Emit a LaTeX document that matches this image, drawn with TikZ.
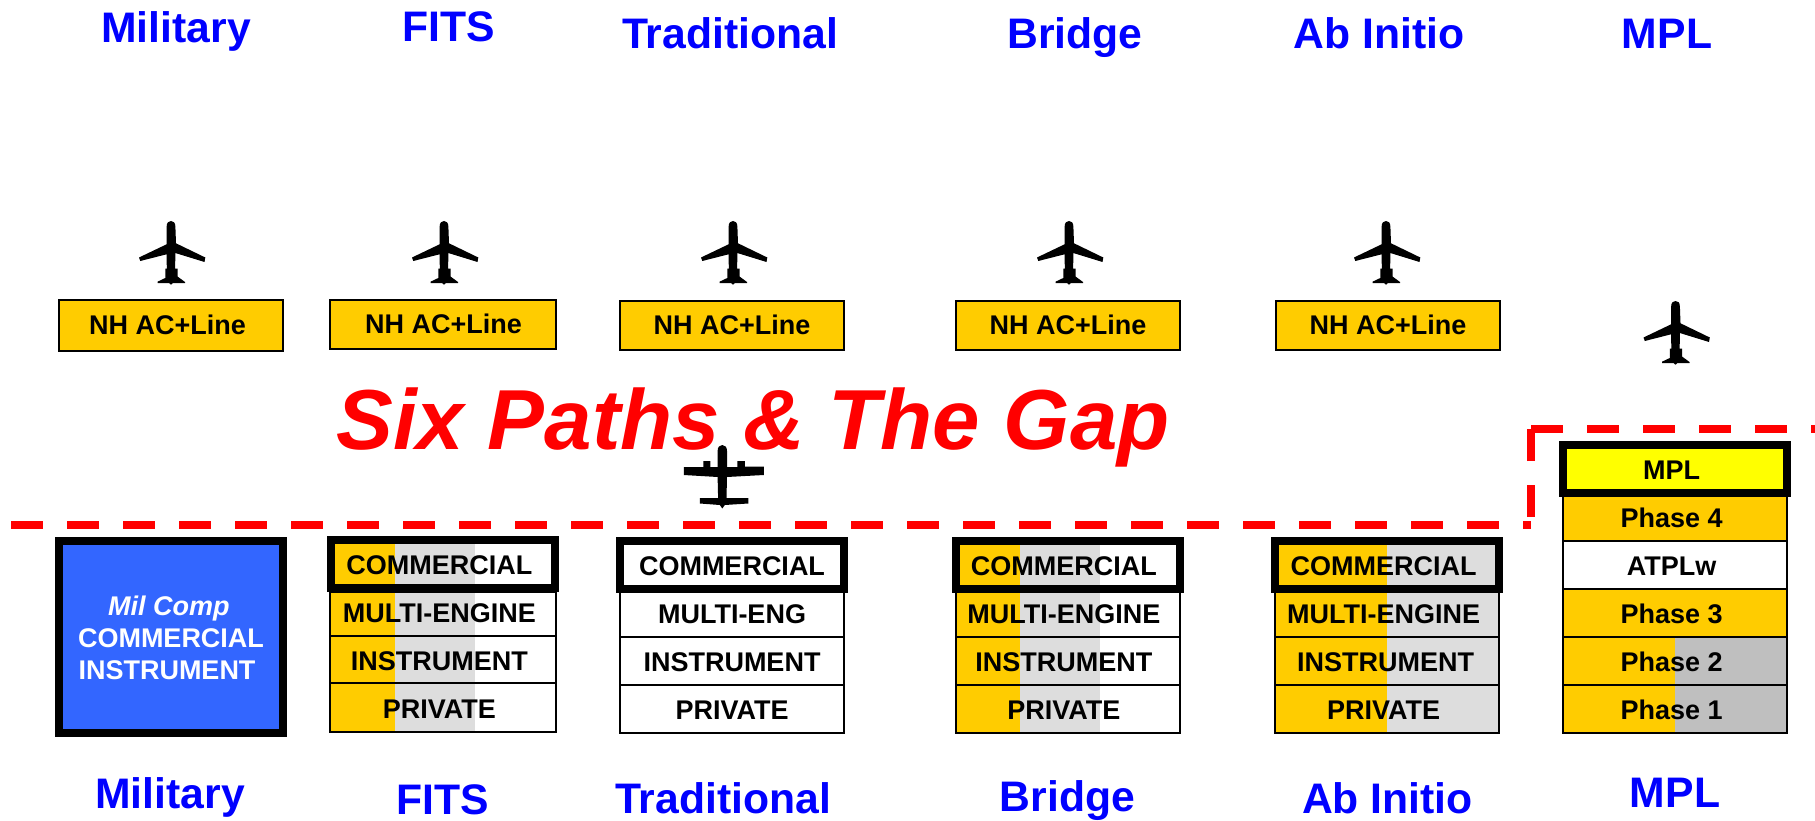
\documentclass[tikz,border=0pt]{standalone}
\usepackage{fontspec}
\setmainfont{Liberation Sans}
\definecolor{amber}{HTML}{FFCC00}
\definecolor{lgray}{HTML}{DDDDDD}
\definecolor{dgray}{HTML}{BFBFBF}
\definecolor{milblue}{HTML}{3366FF}
\definecolor{pureblue}{HTML}{0000FF}
\definecolor{pureyellow}{RGB}{255,255,0}
\tikzset{
  rowbox/.style={draw=black,line width=2pt},
  thickbox/.style={draw=black,line width=8pt,line join=miter},
  rowtext/.style={anchor=base,inner sep=0pt,font=\fontsize{27}{30}\bfseries\selectfont,text=black},
  headtext/.style={anchor=base,inner sep=0pt,font=\fontsize{42.7}{46}\bfseries\selectfont,text=pureblue},
  redline/.style={draw=red,line width=8pt},
  jet/.pic={
    \fill[black] (-4.4,6) .. controls (-4.4,1.5) and (-2.5,0) .. (0,0) .. controls (2.5,0) and (4.4,1.5) .. (4.4,6)
      -- (5,22.3) -- (34.3,36.5) -- (33.5,41) -- (4.3,32) -- (4.2,47.5) -- (6.5,47.5) -- (6.5,55.5) -- (14,61) -- (14,62)
      -- (2,62) -- (0,63.7) -- (-2,62) -- (-13.5,62) -- (-13.5,60.7) -- (-5.7,57) -- (-5.7,47.5) -- (-4.2,47.5)
      -- (-4.4,33.3) -- (-30.7,40) -- (-32,36.5) -- (-4.4,23.3) -- cycle;
  },
  propplane/.pic={
    \fill[black] (-4.7,6) .. controls (-4.7,2) and (-2.5,0) .. (0,0) .. controls (2.5,0) and (4.7,2) .. (4.7,6)
      -- (4.7,22) -- (15,22) -- (15,16) -- (22.5,16) -- (22.5,21.5) -- (41.5,21.5) -- (41.5,30) -- (4.7,32)
      -- (4.2,53) -- (26,53) -- (26,58.5) -- (2.5,60) -- (0,63.5) -- (-2.5,60) -- (-22.5,58.5) -- (-22.5,53) -- (-4.2,53)
      -- (-4.7,32) -- (-38.5,30) -- (-38.5,22) -- (-19,22) -- (-19,16) -- (-12,16) -- (-12,22) -- (-4.7,22) -- cycle;
  }
}
\begin{document}
\begin{tikzpicture}[x=1pt,y=-1pt]
\useasboundingbox (0,0) rectangle (1815,821);

% title
\node[anchor=base,inner sep=0pt,text=red,font=\fontsize{85.2}{90}\bfseries\itshape\selectfont] (title) at (753,449) {Six Paths \& The Gap};

% headings
\node[headtext] (h1) at (176,43) {Military};
\node[headtext] (h2) at (449,42) {FITS};
\node[headtext] (h3) at (730,49) {Traditional};
\node[headtext] (h4) at (1075,49) {Bridge};
\node[headtext] (h5) at (1379,49) {Ab Initio};
\node[headtext] (h6) at (1667,49) {MPL};
\node[headtext] (b1) at (170,808.5) {Military};
\node[headtext] (b2) at (443,814) {FITS};
\node[headtext] (b3) at (723,813) {Traditional};
\node[headtext] (b4) at (1067.5,811) {Bridge};
\node[headtext] (b5) at (1387.5,813) {Ab Initio};
\node[headtext] (b6) at (1675,807) {MPL};

% jets
\foreach \px/\py in {171/221,444/221,733/221,1069/221,1386/221,1675.5/301}
  \pic at (\px,\py) {jet};
\pic at (722.3,445) {propplane};

% new-hire boxes
\foreach \xa/\ya/\xb/\yb in {59/299.5/283/350.5,330/299.5/556/348.5,619.5/301/844/349.5,955.5/301/1180/349.5,1275.5/301/1500/349.5}
  \draw[rowbox,fill=amber] (\xa,\ya) rectangle (\xb,\yb);
\node[rowtext] (nh1) at (167.5,334) {NH AC+Line};
\node[rowtext] (nh2) at (443.5,333) {NH AC+Line};
\node[rowtext] (nh3) at (732,334.5) {NH AC+Line};
\node[rowtext] (nh4) at (1068,334.5) {NH AC+Line};
\node[rowtext] (nh5) at (1388,334.5) {NH AC+Line};

% red dashed gap line
\coordinate (ra) at (11,525);
\coordinate (rb) at (1531,525);
\coordinate (rc) at (1531,429);
\coordinate (rd) at (1815,429);
\draw[redline,dash pattern=on 32pt off 24pt] (ra) -- (rb);
\draw[redline,dash pattern=on 32pt off 24pt,dash phase=48pt] (rb) -- (rc);
\draw[redline,dash pattern=on 32pt off 24pt] (rc) -- (rd);

% military
\draw[thickbox,fill=milblue] (59,541) rectangle (283,733);
\node[anchor=base,inner sep=0pt,text=white,font=\fontsize{27}{30}\bfseries\itshape\selectfont] (m1) at (168.8,615) {Mil Comp};
\node[rowtext,text=white] (m2) at (171,647) {COMMERCIAL};
\node[rowtext,text=white] (m3) at (167,679) {INSTRUMENT};

% FITS
\fill[amber] (330,540) rectangle (394.6,732);
\fill[lgray] (394.6,540) rectangle (475,732);
\foreach \ya/\yb in {591.7/635.7,635.7/683.3,683.3/731.7}
  \draw[rowbox] (330,\ya) rectangle (556,\yb);
\draw[thickbox] (331,539.5) rectangle (555,587.7);
\node[rowtext] (f1) at (439.4,574.3) {COMMERCIAL};
\node[rowtext] (f2) at (439.4,622.3) {MULTI-ENGINE};
\node[rowtext] (f3) at (439.4,670.3) {INSTRUMENT};
\node[rowtext] (f4) at (439.4,718.3) {PRIVATE};

% Traditional
\foreach \ya/\yb in {592/637,637/685,685/732.7}
  \draw[rowbox] (619.5,\ya) rectangle (844,\yb);
\draw[thickbox] (620,541) rectangle (844,589);
\node[rowtext] (t1) at (732,575) {COMMERCIAL};
\node[rowtext] (t2) at (732,623) {MULTI-ENG};
\node[rowtext] (t3) at (732,671) {INSTRUMENT};
\node[rowtext] (t4) at (732,719) {PRIVATE};

% Bridge
\fill[amber] (956,541) rectangle (1020,732.7);
\fill[lgray] (1020,541) rectangle (1100,732.7);
\foreach \ya/\yb in {592/637,637/685,685/732.7}
  \draw[rowbox] (956,\ya) rectangle (1180,\yb);
\draw[thickbox] (956,541) rectangle (1180,589);
\node[rowtext] (g1) at (1063.8,575) {COMMERCIAL};
\node[rowtext] (g2) at (1063.8,623) {MULTI-ENGINE};
\node[rowtext] (g3) at (1063.8,671) {INSTRUMENT};
\node[rowtext] (g4) at (1063.8,719) {PRIVATE};

% Ab Initio
\fill[amber] (1275,541) rectangle (1387,732.7);
\fill[lgray] (1387,541) rectangle (1499.4,732.7);
\foreach \ya/\yb in {592/636.7,636.7/684.7,684.7/732.7}
  \draw[rowbox] (1274.5,\ya) rectangle (1499.4,\yb);
\draw[thickbox] (1275,541) rectangle (1499,589);
\node[rowtext] (a1) at (1383.5,575.5) {COMMERCIAL};
\node[rowtext] (a2) at (1383.5,623.3) {MULTI-ENGINE};
\node[rowtext] (a3) at (1385.5,671.3) {INSTRUMENT};
\node[rowtext] (a4) at (1383.5,719.3) {PRIVATE};

% MPL
\fill[amber] (1563,493) rectangle (1787,540.7);
\fill[amber] (1563,588.7) rectangle (1787,636.7);
\fill[amber] (1563,636.7) rectangle (1675,732.7);
\fill[dgray] (1675,636.7) rectangle (1787,732.7);
\foreach \ya/\yb in {493/540.7,540.7/588.7,588.7/636.7,636.7/684.7,684.7/732.7}
  \draw[rowbox] (1563,\ya) rectangle (1787,\yb);
\draw[thickbox,fill=pureyellow] (1563,445) rectangle (1787,493);
\node[rowtext] (p0) at (1671.6,479.3) {MPL};
\node[rowtext] (p1) at (1671.6,527.3) {Phase 4};
\node[rowtext] (p2) at (1671.6,575.3) {ATPLw};
\node[rowtext] (p3) at (1671.6,623.5) {Phase 3};
\node[rowtext] (p4) at (1671.6,671.5) {Phase 2};
\node[rowtext] (p5) at (1671.6,719.5) {Phase 1};
\end{tikzpicture}
\end{document}
